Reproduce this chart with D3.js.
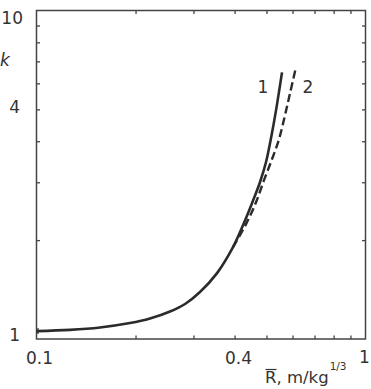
<!DOCTYPE html>
<html>
<head>
<meta charset="utf-8">
<script src="https://cdn.jsdelivr.net/npm/d3@7/dist/d3.min.js"></script>
<style>
  html, body { margin: 0; padding: 0; background: #fff; }
  svg { display: block; }
  text { font-family: "DejaVu Sans", "Liberation Sans", Arial, sans-serif; fill: #333; }
</style>
</head>
<body>
<svg id="chart" width="371" height="389"></svg>
<script>
// ---- data ----
const curve1X = [0.1, 0.1264, 0.156, 0.1924, 0.2213, 0.2546, 0.2828, 0.314, 0.3538, 0.3956, 0.4243, 0.4519, 0.4778, 0.4983, 0.5161, 0.5346, 0.5575];
const curve1K = [1.057, 1.066, 1.084, 1.118, 1.154, 1.212, 1.278, 1.390, 1.587, 1.904, 2.221, 2.591, 3.001, 3.451, 4.083, 4.966, 6.48];
const curve2X = [0.3956, 0.4334, 0.4648, 0.4912, 0.5197, 0.5458, 0.5692, 0.5895, 0.6126];
const curve2K = [1.904, 2.237, 2.609, 3.04, 3.525, 4.055, 4.797, 5.594, 6.617];
const xTickValues = [0.1, 0.2, 0.3, 0.4, 0.5, 0.6, 0.7, 0.8, 0.9, 1];
const yTickValues = [1, 2, 3, 4, 5, 6, 7, 8, 9, 10];
const xTickLabels = ["0.1", "0.4", "1"];
const xTickLabelValues = [0.1, 0.4, 1];
const yTickLabels = ["1", "4", "10"];
const yTickLabelValues = [1, 4, 10];
const seriesNames = ["1", "2"];

// ---- layout ----
const svg = d3.select("#chart");
const pLeft = 36.5, pRight = 365.5, pTop = 10.5, pBottom = 339;
const x = d3.scaleLog().domain([0.1, 1]).range([pLeft, pRight]);
const y = d3.scaleLog().domain([1, 10]).range([pBottom, pTop]);
const ink = "#2b2b2b";

// frame
svg.append("rect")
  .attr("x", pLeft).attr("y", pTop)
  .attr("width", pRight - pLeft).attr("height", pBottom - pTop)
  .attr("fill", "none").attr("stroke", "#444").attr("stroke-width", 1.5);

// axes with inner ticks on all four sides
const tickLen = 3.5;
function styleAxis(g) {
  g.select(".domain").remove();
  g.selectAll(".tick line").attr("stroke", "#444").attr("stroke-width", 1.3);
  g.selectAll(".tick text").remove();
}
svg.append("g").attr("transform", `translate(0,${pBottom})`)
  .call(d3.axisTop(x).tickValues(xTickValues.slice(1, -1)).tickSize(tickLen)).call(styleAxis);
svg.append("g").attr("transform", `translate(0,${pTop})`)
  .call(d3.axisBottom(x).tickValues(xTickValues.slice(1, -1)).tickSize(tickLen)).call(styleAxis);
svg.append("g").attr("transform", `translate(${pLeft},0)`)
  .call(d3.axisRight(y).tickValues(yTickValues.slice(1, -1)).tickSize(tickLen)).call(styleAxis);
svg.append("g").attr("transform", `translate(${pRight},0)`)
  .call(d3.axisLeft(y).tickValues(yTickValues.slice(1, -1)).tickSize(tickLen)).call(styleAxis);

// tick labels
const xLabelOffsets = [3, 4, -1];
svg.append("g").selectAll("text").data(xTickLabels).join("text")
  .attr("x", (d, i) => x(xTickLabelValues[i]) + xLabelOffsets[i])
  .attr("y", (d, i) => i === 2 ? 363 : 364)
  .attr("text-anchor", "middle")
  .attr("font-size", 17)
  .text(d => d);

const yLabelOffsets = [2, -28, 13];
svg.append("g").selectAll("text").data(yTickLabels).join("text")
  .attr("x", (d, i) => i === 2 ? 23 : 20)
  .attr("y", (d, i) => y(yTickLabelValues[i]) + yLabelOffsets[i])
  .attr("text-anchor", "end")
  .attr("font-size", 17)
  .text(d => d);

// axis titles
svg.append("text").attr("x", 0).attr("y", 66)
  .attr("font-size", 17).attr("font-style", "italic").text("k");

const xt = svg.append("text").attr("x", 265).attr("y", 383).attr("font-size", 16.5);
xt.append("tspan").text("R");
xt.append("tspan").text(", m/kg");
xt.append("tspan").attr("font-size", 10.5).attr("dy", -13).attr("dx", 1).text("1/3");
svg.append("line").attr("x1", 265.5).attr("x2", 276.5).attr("y1", 369.5).attr("y2", 369.5)
  .attr("stroke", "#333").attr("stroke-width", 1.2);

// curves
const line = d3.line().x(d => x(d[0])).y(d => y(d[1])).curve(d3.curveCatmullRom.alpha(0.5));
const s1 = curve1X.map((v, i) => [v, curve1K[i]]);
const s2 = curve2X.map((v, i) => [v, curve2K[i]]);

svg.append("path").datum(s2).attr("d", line)
  .attr("fill", "none").attr("stroke", ink).attr("stroke-width", 2.4)
  .attr("stroke-dasharray", "8,4");
svg.append("path").datum(s1).attr("d", line)
  .attr("fill", "none").attr("stroke", ink).attr("stroke-width", 2.6);

// small start cap
svg.append("line")
  .attr("x1", x(curve1X[0]) + 1.5).attr("x2", x(curve1X[0]) + 1.5)
  .attr("y1", y(curve1K[0]) - 3).attr("y2", y(curve1K[0]) + 3)
  .attr("stroke", ink).attr("stroke-width", 1.2);

// series labels
const seriesLabelX = [263, 308];
svg.append("g").selectAll("text").data(seriesNames).join("text")
  .attr("x", (d, i) => seriesLabelX[i])
  .attr("y", 93)
  .attr("text-anchor", "middle")
  .attr("font-size", 17)
  .text(d => d);
</script>
</body>
</html>
